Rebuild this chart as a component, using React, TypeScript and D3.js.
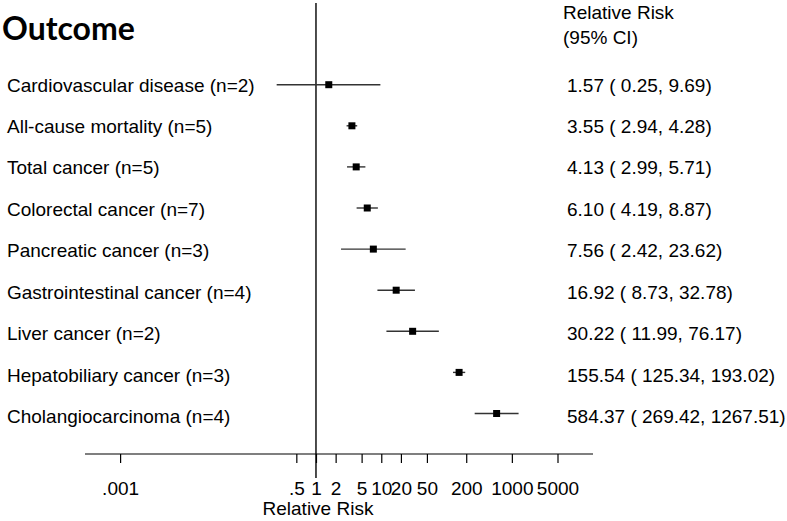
import React, { useRef, useEffect } from 'react'
import * as d3 from 'd3'

const outcomes = [
  'Cardiovascular disease (n=2)',
  'All-cause mortality (n=5)',
  'Total cancer (n=5)',
  'Colorectal cancer (n=7)',
  'Pancreatic cancer (n=3)',
  'Gastrointestinal cancer (n=4)',
  'Liver cancer (n=2)',
  'Hepatobiliary cancer (n=3)',
  'Cholangiocarcinoma (n=4)',
]
const rr = [1.57, 3.55, 4.13, 6.1, 7.56, 16.92, 30.22, 155.54, 584.37]
const lower = [0.25, 2.94, 2.99, 4.19, 2.42, 8.73, 11.99, 125.34, 269.42]
const upper = [9.69, 4.28, 5.71, 8.87, 23.62, 32.78, 76.17, 193.02, 1267.51]
const tickValues = [0.001, 0.5, 1, 2, 5, 10, 20, 50, 200, 1000, 5000]
const tickLabels = ['.001', '.5', '1', '2', '5', '10', '20', '50', '200', '1000', '5000']

const W = 787
const H = 521

const App = () => {
  const svgRef = useRef<SVGSVGElement>(null)

  useEffect(() => {
    const svg = d3.select(svgRef.current)
    svg.selectAll('*').remove()

    const font = "'Liberation Sans', Arial, sans-serif"
    const fs = 19

    const x = d3.scaleLog().domain([0.001, 5000]).range([120.1, 557.5])
    // marker rows and text baselines (text drifts slightly vs markers in the original)
    const y = d3.scalePoint<string>().domain(outcomes).range([84.7, 413.5])
    const yText = d3.scalePoint<string>().domain(outcomes).range([91.5, 423.3])
    const axisY = 454

    // title
    svg.append('text')
      .attr('x', 2)
      .attr('y', 40)
      .attr('font-family', "Lato, 'Open Sans', sans-serif")
      .attr('font-weight', 'bold')
      .attr('font-size', 32)
      .attr('fill', '#000')
      .text('Outcome')

    // right header
    const hdr = svg.append('g')
      .attr('font-family', font)
      .attr('font-size', fs)
      .attr('fill', '#000')
    hdr.append('text').attr('x', 563).attr('y', 18.5).text('Relative Risk')
    hdr.append('text').attr('x', 563).attr('y', 44).text('(95% CI)')

    // line of no effect
    svg.append('line')
      .attr('x1', x(1)).attr('x2', x(1))
      .attr('y1', 3).attr('y2', 478)
      .attr('stroke', '#000')
      .attr('stroke-width', 1.4)

    // axis
    svg.append('line')
      .attr('x1', 85).attr('x2', 593)
      .attr('y1', axisY).attr('y2', axisY)
      .attr('stroke', '#000')
      .attr('stroke-width', 1.2)

    const axis = d3.axisBottom(x)
      .tickValues(tickValues)
      .tickSize(9)
      .tickSizeOuter(0)
      .tickPadding(19)
      .tickFormat((d, i) => tickLabels[i])

    const ax = svg.append('g')
      .attr('transform', `translate(0,${axisY})`)
      .call(axis)
    ax.select('.domain').remove()
    ax.selectAll('.tick line').attr('stroke', '#000').attr('stroke-width', 1.2)
    ax.selectAll('.tick text')
      .attr('font-family', font)
      .attr('font-size', fs)
      .attr('fill', '#000')

    svg.append('text')
      .attr('x', x(1) + 2)
      .attr('y', 515)
      .attr('text-anchor', 'middle')
      .attr('font-family', font)
      .attr('font-size', fs)
      .attr('fill', '#000')
      .text('Relative Risk')

    // row labels
    svg.append('g')
      .attr('font-family', font)
      .attr('font-size', fs)
      .attr('fill', '#000')
      .selectAll('text')
      .data(outcomes)
      .join('text')
      .attr('x', 7)
      .attr('y', d => yText(d))
      .text(d => d)

    // estimate text
    svg.append('g')
      .attr('font-family', font)
      .attr('font-size', fs)
      .attr('fill', '#000')
      .selectAll('text')
      .data(outcomes)
      .join('text')
      .attr('x', 567)
      .attr('y', d => yText(d))
      .text((d, i) => `${rr[i].toFixed(2)} ( ${lower[i].toFixed(2)}, ${upper[i].toFixed(2)})`)

    // CIs and point estimates
    const rows = svg.append('g')
      .selectAll('g')
      .data(outcomes)
      .join('g')
      .attr('transform', d => `translate(0,${y(d)})`)

    rows.append('line')
      .attr('x1', (d, i) => x(lower[i]))
      .attr('x2', (d, i) => x(upper[i]))
      .attr('stroke', '#333')
      .attr('stroke-width', 1.4)

    rows.append('rect')
      .attr('x', (d, i) => x(rr[i]) - 3.5)
      .attr('y', -3.5)
      .attr('width', 7)
      .attr('height', 7)
      .attr('fill', '#000')
  }, [])

  return (
    <svg
      ref={svgRef}
      width={W}
      height={H}
      style={{ position: 'absolute', left: 0, top: 0, background: '#fff' }}
    />
  )
}

export default App
